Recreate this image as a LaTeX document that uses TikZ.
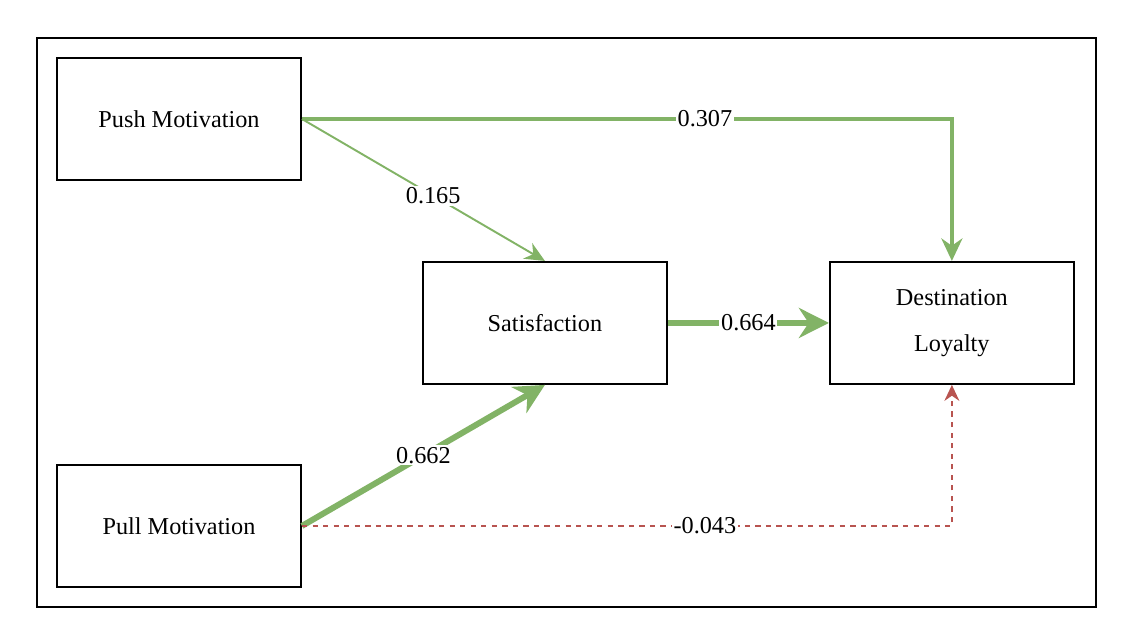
\documentclass[tikz,border=0pt]{standalone}
\usepackage{fontspec}
\setmainfont{Liberation Serif}
\usetikzlibrary{arrows.meta,positioning}
\definecolor{pathgreen}{RGB}{130,179,102}
\definecolor{pathred}{RGB}{184,84,80}

\begin{document}
\begin{tikzpicture}[
  construct/.style={draw, line width=1.1pt, minimum width=4.88cm, minimum height=2.44cm, fill=white, align=center, font=\fontsize{13.8}{16.5}\selectfont},
  coef/.style={fill=white, inner sep=1pt, font=\fontsize{13.8}{16.5}\selectfont},
  weakpath/.style={draw=pathgreen, line width=1.1pt, -{Stealth[length=0.4cm, width=0.36cm]}},
  midpath/.style={draw=pathgreen, line width=2.2pt, -{Stealth[length=0.45cm, width=0.42cm]}},
  strongpath/.style={draw=pathgreen, line width=3.4pt, -{Stealth[length=0.6cm, width=0.6cm]}},
  negpath/.style={draw=pathred, line width=0.9pt, dashed, -{Stealth[length=0.32cm, width=0.3cm]}}
]
\useasboundingbox (0,0) rectangle (22.44,-12.56);
\draw[line width=1.1pt] (0.74,-0.76) rectangle (21.92,-12.14);
\node[construct] (push) at (3.58,-2.38) {Push Motivation};
\node[construct, below=5.66cm of push] (pull) {Pull Motivation};
\node[construct, below right=1.6cm and 2.4cm of push.south east, anchor=north west] (sat) {Satisfaction};
\node[construct, right=3.22cm of sat] (dest) {Destination\\[10pt]Loyalty};
% paths
\draw[weakpath] (push.east) -- node[coef, pos=0.54] {0.165} (sat.north);
\draw[midpath] (push.east) -| node[coef, pos=0.31] {0.307} (dest.north);
\draw[strongpath] (sat.east) -- node[coef] {0.664} (dest.west);
\draw[strongpath] (pull.east) -- node[coef] {0.662} (sat.south);
\draw[negpath] (pull.east) -| node[coef, pos=0.31] {-0.043} (dest.south);
\end{tikzpicture}
\end{document}
